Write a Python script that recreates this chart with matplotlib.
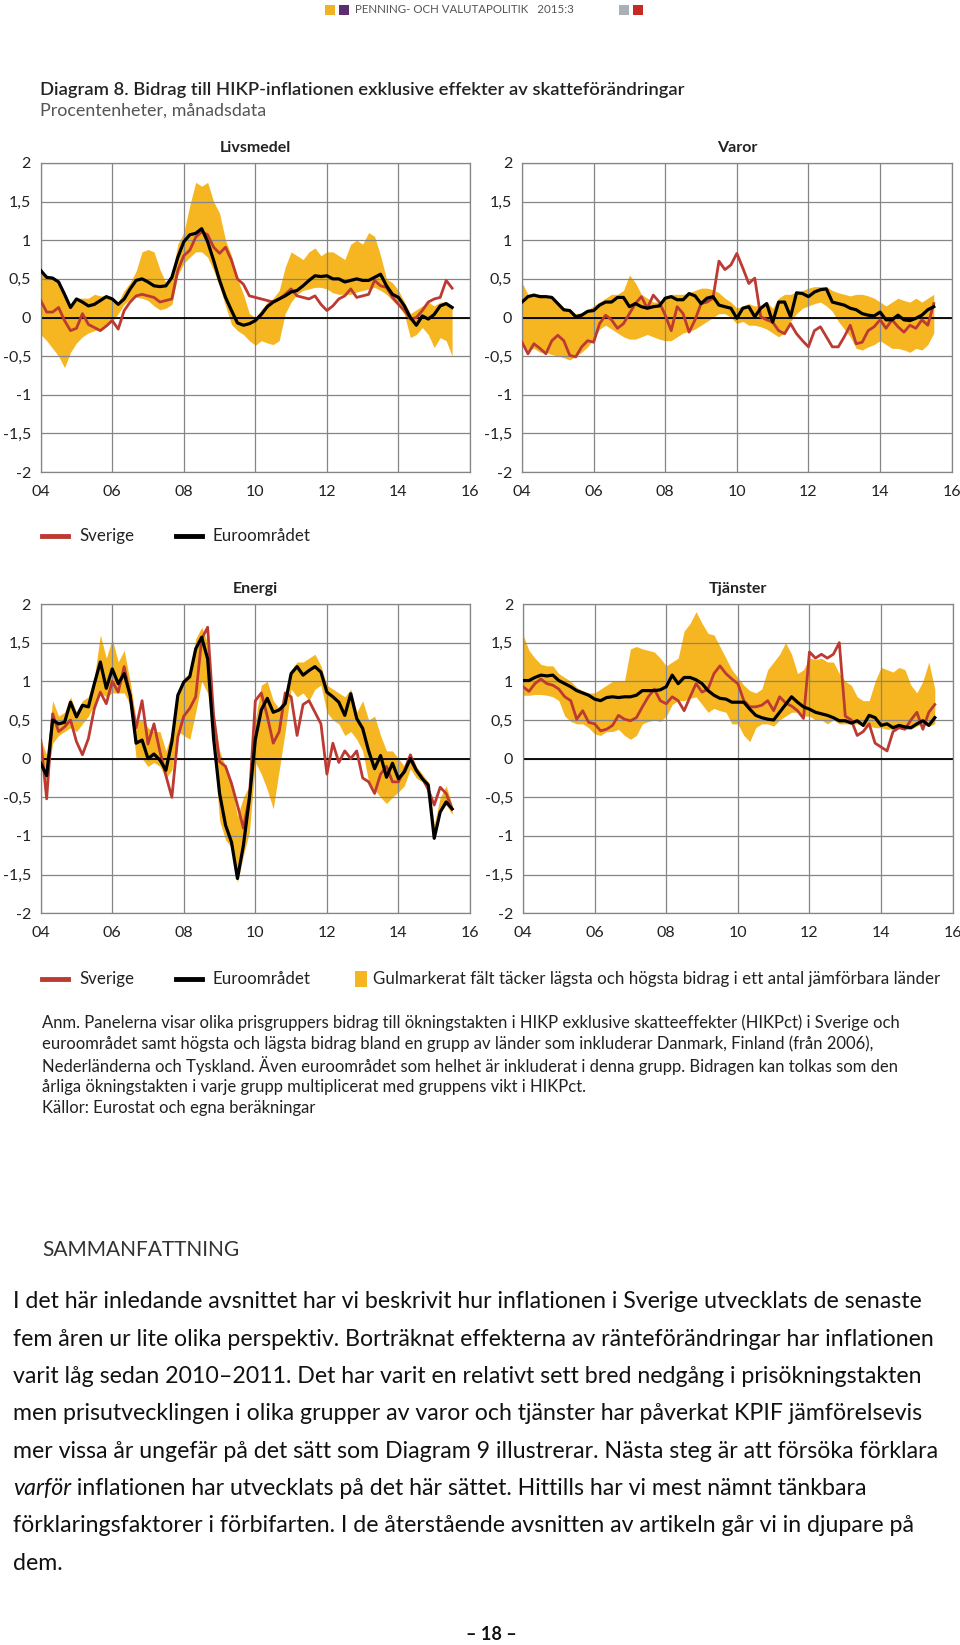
import matplotlib.pyplot as plt
from matplotlib.lines import Line2D
from matplotlib.patches import Rectangle
import numpy as np

plt.rcParams['font.family'] = ['Lato', 'DejaVu Sans']

W, H = 960, 1645


def fx(x):
    return x / W


def fy(y):
    return 1 - y / H


# bimonthly observations, jan 2004 - jul 2015
years = 2004 + np.arange(70) / 6

# Livsmedel
liv_se = [0.22, 0.07, 0.07, 0.13, -0.04, -0.17, -0.14, 0.05, -0.09, -0.13,
          -0.17, -0.11, -0.04, -0.15, 0.09, 0.20, 0.28, 0.30, 0.28, 0.26,
          0.20, 0.22, 0.24, 0.61, 0.80, 0.87, 1.04, 1.11, 1.07, 0.91,
          0.83, 0.91, 0.74, 0.50, 0.43, 0.28, 0.26, 0.24, 0.22, 0.20,
          0.24, 0.30, 0.37, 0.28, 0.26, 0.24, 0.28, 0.17, 0.09, 0.15,
          0.24, 0.28, 0.37, 0.26, 0.28, 0.30, 0.48, 0.41, 0.39, 0.26,
          0.17, 0.09, -0.02, 0.00, 0.09, 0.20, 0.24, 0.26, 0.48, 0.38]
liv_ea = [0.61, 0.52, 0.51, 0.46, 0.30, 0.13, 0.24, 0.20, 0.15, 0.17,
          0.22, 0.27, 0.24, 0.17, 0.24, 0.37, 0.48, 0.50, 0.46, 0.41,
          0.40, 0.41, 0.52, 0.78, 0.98, 1.07, 1.09, 1.15, 0.98, 0.74,
          0.48, 0.26, 0.09, -0.07, -0.10, -0.08, -0.04, 0.04, 0.14, 0.20,
          0.24, 0.28, 0.33, 0.35, 0.41, 0.48, 0.54, 0.53, 0.54, 0.50,
          0.50, 0.46, 0.48, 0.50, 0.48, 0.48, 0.52, 0.56, 0.41, 0.30,
          0.26, 0.15, 0.00, -0.10, 0.02, -0.02, 0.04, 0.15, 0.18, 0.13]
liv_lo = [-0.22, -0.30, -0.40, -0.50, -0.65, -0.45, -0.33, -0.25, -0.20, -0.17,
          -0.15, -0.12, -0.05, 0.05, 0.17, 0.24, 0.26, 0.25, 0.22, 0.15,
          0.10, 0.12, 0.17, 0.55, 0.70, 0.78, 0.85, 0.85, 0.78, 0.61,
          0.40, 0.15, -0.09, -0.17, -0.22, -0.30, -0.36, -0.30, -0.33, -0.35,
          -0.30, 0.05, 0.20, 0.30, 0.35, 0.37, 0.39, 0.39, 0.37, 0.32,
          0.30, 0.30, 0.30, 0.33, 0.35, 0.37, 0.39, 0.35, 0.30, 0.22,
          0.15, 0.04, -0.26, -0.22, -0.13, -0.22, -0.39, -0.26, -0.30, -0.50]
liv_hi = [0.62, 0.53, 0.52, 0.47, 0.32, 0.15, 0.25, 0.25, 0.25, 0.30,
          0.28, 0.28, 0.26, 0.20, 0.35, 0.45, 0.60, 0.85, 0.88, 0.85,
          0.62, 0.45, 0.55, 0.95, 1.10, 1.45, 1.75, 1.70, 1.75, 1.50,
          1.35, 1.00, 0.80, 0.50, 0.30, 0.05, 0.00, 0.10, 0.20, 0.25,
          0.35, 0.65, 0.85, 0.80, 0.75, 0.85, 0.90, 0.80, 0.85, 0.85,
          0.80, 0.75, 0.95, 1.00, 0.95, 1.10, 1.05, 0.80, 0.50, 0.45,
          0.35, 0.20, 0.05, 0.10, 0.15, 0.20, 0.15, 0.20, 0.20, 0.14]

# Varor
var_se = [-0.32, -0.47, -0.34, -0.40, -0.47, -0.30, -0.23, -0.30, -0.49, -0.51,
          -0.38, -0.30, -0.32, -0.08, 0.03, -0.03, -0.14, -0.08, 0.05, 0.18,
          0.27, 0.12, 0.29, 0.20, 0.03, -0.17, 0.14, 0.05, -0.19, -0.03,
          0.18, 0.20, 0.25, 0.73, 0.62, 0.68, 0.83, 0.64, 0.44, 0.51,
          0.01, -0.03, -0.06, -0.17, -0.21, -0.08, -0.21, -0.30, -0.38, -0.17,
          -0.12, -0.25, -0.38, -0.38, -0.25, -0.10, -0.34, -0.32, -0.17, -0.12,
          -0.03, -0.14, -0.03, -0.12, -0.19, -0.10, -0.14, -0.03, -0.10, 0.18]
var_ea = [0.20, 0.27, 0.29, 0.27, 0.27, 0.26, 0.18, 0.10, 0.09, 0.01,
          0.03, 0.08, 0.09, 0.16, 0.20, 0.20, 0.26, 0.26, 0.14, 0.18,
          0.14, 0.12, 0.14, 0.15, 0.25, 0.27, 0.23, 0.23, 0.31, 0.28,
          0.18, 0.25, 0.27, 0.16, 0.14, 0.12, -0.01, 0.12, 0.14, 0.01,
          0.12, 0.18, -0.06, 0.20, 0.20, 0.01, 0.32, 0.31, 0.27, 0.33,
          0.36, 0.37, 0.20, 0.18, 0.16, 0.12, 0.10, 0.05, 0.03, 0.02,
          0.07, -0.03, -0.03, 0.03, -0.03, -0.04, -0.01, 0.03, 0.10, 0.14]
var_lo = [-0.35, -0.42, -0.40, -0.45, -0.45, -0.48, -0.50, -0.52, -0.55, -0.50,
          -0.45, -0.38, -0.28, -0.15, -0.10, -0.15, -0.20, -0.25, -0.28, -0.28,
          -0.25, -0.22, -0.25, -0.28, -0.30, -0.30, -0.25, -0.20, -0.18, -0.15,
          -0.10, -0.05, 0.00, 0.05, 0.05, 0.00, -0.08, -0.05, -0.10, -0.10,
          -0.12, -0.15, -0.20, -0.25, -0.20, -0.05, 0.05, 0.12, 0.15, 0.18,
          0.20, 0.15, 0.08, -0.05, -0.15, -0.25, -0.40, -0.42, -0.38, -0.35,
          -0.30, -0.35, -0.40, -0.40, -0.42, -0.45, -0.40, -0.42, -0.35, -0.20]
var_hi = [0.45, 0.30, 0.30, 0.30, 0.28, 0.27, 0.20, 0.12, 0.10, 0.05,
          0.06, 0.10, 0.15, 0.20, 0.25, 0.30, 0.30, 0.35, 0.55, 0.45,
          0.30, 0.25, 0.20, 0.20, 0.25, 0.30, 0.30, 0.30, 0.32, 0.35,
          0.38, 0.38, 0.36, 0.32, 0.25, 0.20, 0.12, 0.15, 0.18, 0.15,
          0.15, 0.20, 0.12, 0.25, 0.30, 0.30, 0.33, 0.35, 0.38, 0.40,
          0.40, 0.40, 0.35, 0.32, 0.30, 0.28, 0.30, 0.30, 0.28, 0.25,
          0.20, 0.15, 0.20, 0.25, 0.22, 0.20, 0.25, 0.20, 0.25, 0.30]

# Energi
en_se = [0.24, -0.52, 0.58, 0.35, 0.41, 0.50, 0.22, 0.05, 0.26, 0.65,
         0.86, 0.71, 1.00, 0.86, 1.19, 0.82, 0.40, 0.75, 0.19, 0.45,
         0.09, -0.22, -0.50, 0.28, 0.55, 0.65, 0.80, 1.55, 1.70, 0.56,
         -0.04, -0.10, -0.32, -0.60, -0.90, -0.50, 0.75, 0.85, 0.55, 0.20,
         0.35, 0.85, 0.80, 0.30, 0.70, 0.75, 0.60, 0.45, -0.20, 0.20,
         -0.05, 0.10, 0.00, 0.10, -0.25, -0.30, -0.45, -0.20, -0.10, -0.30,
         -0.30, -0.15, 0.05, -0.15, -0.25, -0.40, -0.60, -0.37, -0.45, -0.65]
en_ea = [-0.06, -0.22, 0.50, 0.45, 0.47, 0.73, 0.54, 0.69, 0.67, 0.97,
         1.25, 0.91, 1.16, 0.97, 1.10, 0.82, 0.20, 0.24, 0.00, 0.06,
         -0.02, -0.15, 0.22, 0.82, 0.99, 1.06, 1.42, 1.57, 1.29, 0.26,
         -0.45, -0.86, -1.08, -1.55, -1.12, -0.52, 0.25, 0.63, 0.78, 0.60,
         0.63, 0.71, 1.10, 1.19, 1.08, 1.14, 1.19, 1.12, 0.86, 0.80,
         0.73, 0.56, 0.84, 0.52, 0.39, 0.10, -0.13, 0.04, -0.24, -0.06,
         -0.26, -0.17, 0.00, -0.15, -0.26, -0.34, -1.03, -0.69, -0.56, -0.65]
en_lo = [-0.10, -0.30, 0.20, 0.30, 0.35, 0.40, 0.35, 0.45, 0.55, 0.70,
         0.85, 0.80, 0.85, 0.85, 0.85, 0.70, 0.00, 0.00, -0.10, -0.05,
         -0.10, -0.25, -0.15, 0.35, 0.30, 0.25, 0.60, 1.00, 0.85, 0.20,
         -0.80, -1.05, -1.15, -1.60, -1.25, -0.95, -0.05, -0.20, -0.40, -0.65,
         -0.15, 0.35, 0.90, 0.80, 0.85, 0.75, 0.90, 0.95, 0.60, 0.50,
         0.45, 0.30, 0.35, 0.25, 0.10, -0.30, -0.40, -0.50, -0.58, -0.50,
         -0.43, -0.35, -0.13, -0.25, -0.30, -0.40, -1.05, -0.70, -0.60, -0.72]
en_hi = [0.25, 0.05, 0.75, 0.55, 0.60, 0.80, 0.60, 0.75, 0.80, 1.05,
         1.60, 1.30, 1.55, 1.25, 1.40, 1.00, 0.50, 0.50, 0.40, 0.35,
         0.35, 0.10, 0.35, 0.85, 1.05, 1.10, 1.55, 1.70, 1.50, 0.60,
         0.10, -0.10, -0.30, -0.75, -0.50, -0.35, 0.50, 0.95, 1.00, 0.75,
         0.65, 0.85, 1.15, 1.25, 1.25, 1.30, 1.35, 1.20, 0.95, 0.90,
         0.85, 0.80, 0.90, 0.60, 0.75, 0.50, 0.55, 0.30, 0.10, 0.10,
         0.00, -0.10, 0.05, -0.10, -0.20, -0.30, -0.85, -0.50, -0.35, -0.60]

# Tjänster
tj_se = [0.93, 0.87, 0.97, 1.03, 0.97, 0.95, 0.90, 0.80, 0.75, 0.51,
         0.62, 0.47, 0.45, 0.36, 0.38, 0.43, 0.56, 0.51, 0.49, 0.53,
         0.67, 0.80, 0.90, 0.75, 0.71, 0.80, 0.75, 0.62, 0.80, 0.97,
         0.86, 0.90, 1.10, 1.20, 1.10, 1.03, 0.97, 0.75, 0.67, 0.67,
         0.69, 0.75, 0.62, 0.80, 0.72, 0.68, 0.62, 0.52, 1.38, 1.30,
         1.35, 1.30, 1.35, 1.50, 0.55, 0.50, 0.30, 0.35, 0.45, 0.20,
         0.15, 0.10, 0.35, 0.40, 0.38, 0.50, 0.60, 0.38, 0.60, 0.70]
tj_ea = [1.01, 1.01, 1.05, 1.08, 1.07, 1.08, 1.01, 0.97, 0.93, 0.88,
         0.85, 0.82, 0.77, 0.75, 0.79, 0.80, 0.79, 0.80, 0.80, 0.82,
         0.88, 0.88, 0.88, 0.89, 0.93, 1.08, 0.97, 1.05, 1.05, 1.02,
         0.97, 0.88, 0.82, 0.78, 0.77, 0.73, 0.73, 0.73, 0.64, 0.56,
         0.53, 0.51, 0.50, 0.60, 0.70, 0.80, 0.73, 0.67, 0.64, 0.60,
         0.58, 0.56, 0.53, 0.49, 0.49, 0.46, 0.49, 0.43, 0.56, 0.53,
         0.43, 0.45, 0.40, 0.43, 0.41, 0.40, 0.45, 0.49, 0.43, 0.53]
tj_lo = [0.82, 0.82, 0.83, 0.83, 0.82, 0.80, 0.75, 0.55, 0.48, 0.45,
         0.45, 0.40, 0.32, 0.30, 0.35, 0.35, 0.38, 0.30, 0.25, 0.30,
         0.45, 0.48, 0.50, 0.48, 0.55, 0.70, 0.75, 0.75, 0.78, 0.80,
         0.70, 0.60, 0.65, 0.62, 0.60, 0.45, 0.45, 0.30, 0.22, 0.40,
         0.45, 0.45, 0.42, 0.50, 0.55, 0.60, 0.60, 0.55, 0.55, 0.50,
         0.50, 0.45, 0.50, 0.45, 0.45, 0.45, 0.45, 0.42, 0.42, 0.40,
         0.40, 0.38, 0.38, 0.40, 0.38, 0.38, 0.42, 0.45, 0.42, 0.45]
tj_hi = [1.60, 1.40, 1.30, 1.22, 1.20, 1.20, 1.10, 1.05, 1.00, 0.92,
         0.88, 0.85, 0.85, 0.90, 0.95, 1.00, 1.00, 1.00, 1.42, 1.45,
         1.42, 1.40, 1.38, 1.30, 1.20, 1.25, 1.30, 1.65, 1.75, 1.90,
         1.75, 1.62, 1.60, 1.45, 1.30, 1.15, 1.05, 0.95, 0.88, 0.85,
         0.90, 1.15, 1.25, 1.35, 1.50, 1.35, 1.10, 1.15, 1.30, 1.28,
         1.30, 1.25, 1.25, 1.10, 1.00, 0.95, 0.80, 0.75, 0.75, 1.00,
         1.18, 1.15, 1.12, 1.18, 1.15, 0.95, 0.85, 1.00, 1.25, 0.90]

year_ticks = [2004, 2006, 2008, 2010, 2012, 2014, 2016]
year_labels = ['04', '06', '08', '10', '12', '14', '16']
y_ticks = [2, 1.5, 1, 0.5, 0, -0.5, -1, -1.5, -2]
y_labels = ['2', '1,5', '1', '0,5', '0', '-0,5', '-1', '-1,5', '-2']

YELLOW = '#F5B622'
RED = '#BD3A33'
GRID = '#858585'

fig = plt.figure(figsize=(9.6, 16.45), dpi=100)


def draw_panel(rect, title, se, ea, lo, hi):
    x0, y0, x1, y1 = rect
    ax = fig.add_axes([fx(x0), fy(y1), (x1 - x0) / W, (y1 - y0) / H])
    ax.fill_between(years, lo, hi, color=YELLOW, lw=0, zorder=1)
    ax.plot(years, se, color=RED, lw=2.0, zorder=3)
    ax.plot(years, ea, color='black', lw=2.3, zorder=4)
    ax.axhline(0, color='black', lw=1.3, zorder=2.5)
    ax.set_xlim(2004, 2016)
    ax.set_ylim(-2, 2)
    ax.set_xticks(year_ticks)
    ax.set_xticklabels(year_labels)
    ax.set_yticks(y_ticks)
    ax.set_yticklabels(y_labels)
    ax.grid(True, color=GRID, lw=0.9)
    ax.set_axisbelow('line')
    ax.tick_params(length=0, labelsize=11.5, colors='#222222')
    ax.tick_params(axis='x', pad=9)
    ax.tick_params(axis='y', pad=7)
    for s in ax.spines.values():
        s.set_color(GRID)
        s.set_linewidth(0.9)
    ax.set_title(title, fontsize=11.5, fontweight='bold', pad=8, color='#222222')
    return ax


draw_panel((40.7, 163, 470, 472), 'Livsmedel', liv_se, liv_ea, liv_lo, liv_hi)
draw_panel((522, 163, 951.7, 472), 'Varor', var_se, var_ea, var_lo, var_hi)
draw_panel((40.7, 604, 470, 913.3), 'Energi', en_se, en_ea, en_lo, en_hi)
draw_panel((523, 604, 952.7, 913.3), 'Tjänster', tj_se, tj_ea, tj_lo, tj_hi)


def legend_row(y, with_band=False):
    fig.add_artist(Line2D([fx(42), fx(68)], [fy(y), fy(y)], color=RED, lw=3.5))
    fig.text(fx(79), fy(y), 'Sverige', fontsize=12.2, va='center', color='#222222')
    fig.add_artist(Line2D([fx(176), fx(202)], [fy(y), fy(y)], color='black', lw=3.5))
    fig.text(fx(213), fy(y), 'Euroområdet', fontsize=12.2, va='center', color='#222222')
    if with_band:
        fig.add_artist(Rectangle((fx(355), fy(y + 8)), 12 / W, 16 / H,
                                 color=YELLOW, lw=0, transform=fig.transFigure))
        fig.text(fx(373), fy(y), 'Gulmarkerat fält täcker lägsta och högsta bidrag i ett antal jämförbara länder',
                 fontsize=12.2, va='center', color='#222222')


legend_row(536)
legend_row(979, with_band=True)

# header
for x, c in [(325, '#F0B323'), (339, '#5E2D6F'), (619, '#A9B0B6'), (633, '#C62A22')]:
    fig.add_artist(Rectangle((fx(x), fy(14.5)), 10 / W, 10 / H, color=c, lw=0,
                             transform=fig.transFigure))
fig.text(fx(355), fy(9.5), 'PENNING- OCH VALUTAPOLITIK   2015:3', fontsize=8.3,
         va='center', color='#555555')

fig.text(fx(40), fy(90), 'Diagram 8. Bidrag till HIKP-inflationen exklusive effekter av skatteförändringar',
         fontsize=13.2, fontweight='semibold', va='center', color='#222222')
fig.text(fx(40), fy(111), 'Procentenheter, månadsdata', fontsize=12.9, va='center', color='#555555')

anm = [
    'Anm. Panelerna visar olika prisgruppers bidrag till ökningstakten i HIKP exklusive skatteeffekter (HIKPct) i Sverige och',
    'euroområdet samt högsta och lägsta bidrag bland en grupp av länder som inkluderar Danmark, Finland (från 2006),',
    'Nederländerna och Tyskland. Även euroområdet som helhet är inkluderat i denna grupp. Bidragen kan tolkas som den',
    'årliga ökningstakten i varje grupp multiplicerat med gruppens vikt i HIKPct.',
    'Källor: Eurostat och egna beräkningar',
]
for i, line in enumerate(anm):
    fig.text(fx(42), fy(1023 + 21.2 * i), line, fontsize=12, va='center', color='#222222')

fig.text(fx(42), fy(1250), 'SAMMANFATTNING', fontsize=15, va='center', color='#333333')

body = [
    'I det här inledande avsnittet har vi beskrivit hur inflationen i Sverige utvecklats de senaste',
    'fem åren ur lite olika perspektiv. Borträknat effekterna av ränteförändringar har inflationen',
    'varit låg sedan 2010–2011. Det har varit en relativt sett bred nedgång i prisökningstakten',
    'men prisutvecklingen i olika grupper av varor och tjänster har påverkat KPIF jämförelsevis',
    'mer vissa år ungefär på det sätt som Diagram 9 illustrerar. Nästa steg är att försöka förklara',
    None,
    'förklaringsfaktorer i förbifarten. I de återstående avsnitten av artikeln går vi in djupare på',
    'dem.',
]
renderer = fig.canvas.get_renderer()
for i, line in enumerate(body):
    y = fy(1302 + 37.3 * i)
    if line is None:
        t = fig.text(fx(13), y, 'varför', fontsize=16.7, style='italic', va='center', color='#111111')
        w = t.get_window_extent(renderer).width
        fig.text(fx(13 + w), y, ' inflationen har utvecklats på det här sättet. Hittills har vi mest nämnt tänkbara',
                 fontsize=16.7, va='center', color='#111111')
    else:
        fig.text(fx(13), y, line, fontsize=16.7, va='center', color='#111111')

fig.text(fx(491), fy(1634), '– 18 –', fontsize=13, fontweight='bold', ha='center', va='center',
         color='#111111')

fig.savefig('out.png', dpi=100)
